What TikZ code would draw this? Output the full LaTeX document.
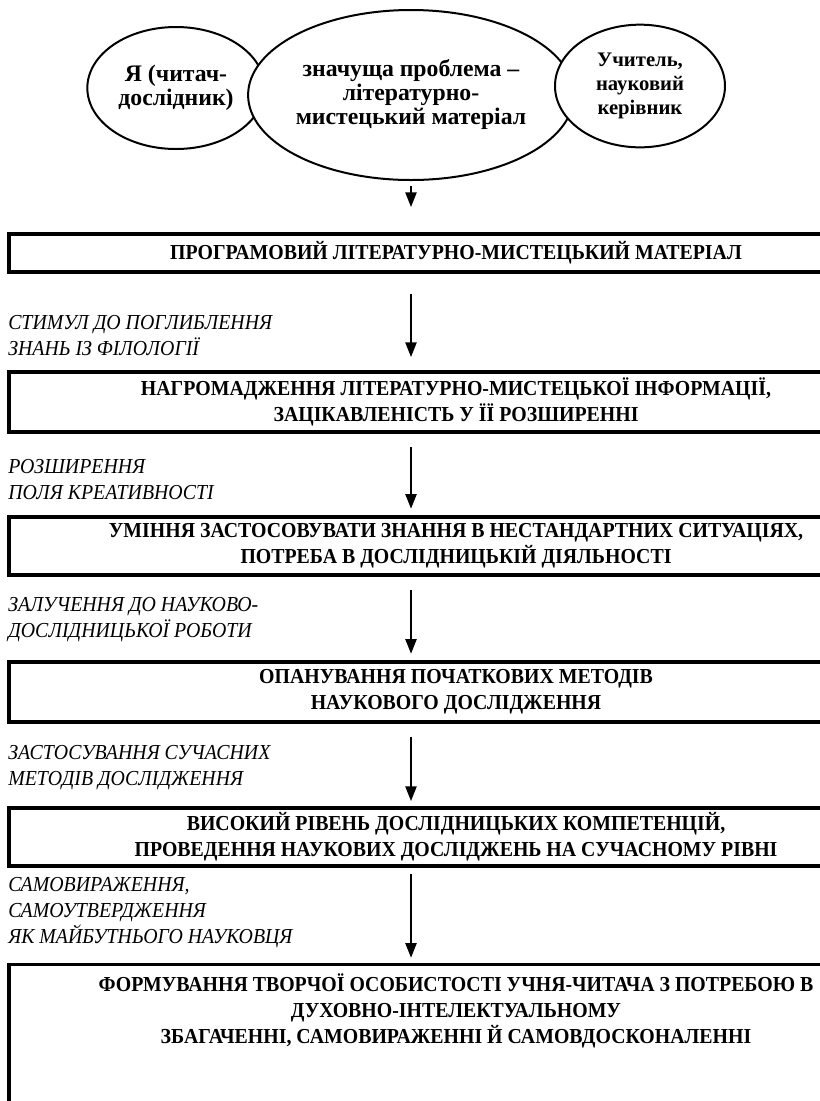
\documentclass[tikz,border=0pt]{standalone}
\usepackage{fontspec}
\setmainfont{Liberation Serif}[FakeStretch=0.93]
\newfontfamily\ovalfamily{Liberation Serif}
\usetikzlibrary{shapes.geometric,arrows.meta}
\newcommand{\stagefont}{\fontsize{16}{19.5}\selectfont}
\newcommand{\ovalfont}{\ovalfamily\fontsize{17.8}{18}\selectfont}

\begin{document}
\begin{tikzpicture}[x=0.75pt, y=-0.75pt,
    oval/.style={ellipse, draw, line width=1.5pt, fill=white, align=center,
      font=\ovalfont\bfseries, inner sep=0pt},
    stage/.style={rectangle, draw, line width=2.5pt, minimum width=670.5pt,
      align=center, font=\stagefont\bfseries, inner sep=0pt},
    cue/.style={anchor=west, align=left, font=\stagefont\itshape, inner sep=0pt},
    flow/.style={-{Triangle[length=11pt,width=8.5pt]}, line width=1pt}]
        \useasboundingbox (0,0) rectangle (820,1101);
        \clip (0,0) rectangle (820,1101);
        \fill[white] (0,0) rectangle (820,1101);

        \node[oval, minimum width=133pt, minimum height=91.5pt] (e1) at (176, 88)
              {Я (читач-\\дослідник)};
        \node[oval, minimum width=231pt, minimum height=127.5pt] (e2) at (411, 95)
              {значуща проблема –\\літературно-\\мистецький матеріал};
        \node[oval, minimum width=127.5pt, minimum height=92pt,
              font=\ovalfamily\fontsize{15.5}{18}\selectfont\bfseries] (e3) at (640, 86)
              {Учитель,\\науковий\\керівник};

        \node[stage, minimum height=28.5pt] (b1) at (456, 253)
              {ПРОГРАМОВИЙ ЛІТЕРАТУРНО-МИСТЕЦЬКИЙ МАТЕРІАЛ};
        \node[stage, minimum height=45pt] (b2) at (456, 402)
              {НАГРОМАДЖЕННЯ ЛІТЕРАТУРНО-МИСТЕЦЬКОЇ ІНФОРМАЦІЇ,\\ЗАЦІКАВЛЕНІСТЬ У ЇЇ РОЗШИРЕННІ};
        \node[stage, minimum height=43.5pt] (b3) at (456, 546)
              {УМІННЯ ЗАСТОСОВУВАТИ ЗНАННЯ В НЕСТАНДАРТНИХ СИТУАЦІЯХ,\\ПОТРЕБА В ДОСЛІДНИЦЬКІЙ ДІЯЛЬНОСТІ};
        \node[stage, minimum height=45pt] (b4) at (456, 692)
              {ОПАНУВАННЯ ПОЧАТКОВИХ МЕТОДІВ\\НАУКОВОГО ДОСЛІДЖЕННЯ};
        \node[stage, minimum height=43.5pt] (b5) at (456, 837)
              {ВИСОКИЙ РІВЕНЬ ДОСЛІДНИЦЬКИХ КОМПЕТЕНЦІЙ,\\ПРОВЕДЕННЯ НАУКОВИХ ДОСЛІДЖЕНЬ НА СУЧАСНОМУ РІВНІ};
        \node[stage, anchor=north, inner ysep=7pt, text depth=120pt] (b6) at (456, 963)
              {ФОРМУВАННЯ ТВОРЧОЇ ОСОБИСТОСТІ УЧНЯ-ЧИТАЧА З ПОТРЕБОЮ В\\ДУХОВНО-ІНТЕЛЕКТУАЛЬНОМУ\\ЗБАГАЧЕННІ, САМОВИРАЖЕННІ Й САМОВДОСКОНАЛЕННІ};

        \node[cue] (l1) at (8, 336) {СТИМУЛ ДО ПОГЛИБЛЕННЯ\\ЗНАНЬ ІЗ ФІЛОЛОГІЇ};
        \node[cue] (l2) at (8, 480) {РОЗШИРЕННЯ\\ПОЛЯ КРЕАТИВНОСТІ};
        \node[cue] (l3) at (8, 620) {ЗАЛУЧЕННЯ ДО НАУКОВО-\\ДОСЛІДНИЦЬКОЇ РОБОТИ};
        \node[cue] (l4) at (8, 768) {ЗАСТОСУВАННЯ СУЧАСНИХ\\МЕТОДІВ ДОСЛІДЖЕННЯ};
        \node[cue] (l5) at (8, 913) {САМОВИРАЖЕННЯ,\\САМОУТВЕРДЖЕННЯ\\ЯК МАЙБУТНЬОГО НАУКОВЦЯ};

        \draw[flow, shorten <=4pt, shorten >=19pt] (e2.south) -- (b1.north -| e2.south);
        \draw[flow, shorten <=15pt, shorten >=10pt] (b1.south -| e2.south) -- (b2.north -| e2.south);
        \draw[flow, shorten <=10pt, shorten >=5pt] (b2.south -| e2.south) -- (b3.north -| e2.south);
        \draw[flow, shorten <=10pt, shorten >=5pt] (b3.south -| e2.south) -- (b4.north -| e2.south);
        \draw[flow, shorten <=10pt, shorten >=4pt] (b4.south -| e2.south) -- (b5.north -| e2.south);
        \draw[flow, shorten <=4.5pt, shorten >=4pt] (b5.south -| e2.south) -- (b6.north -| e2.south);
      \end{tikzpicture}
\end{document}
